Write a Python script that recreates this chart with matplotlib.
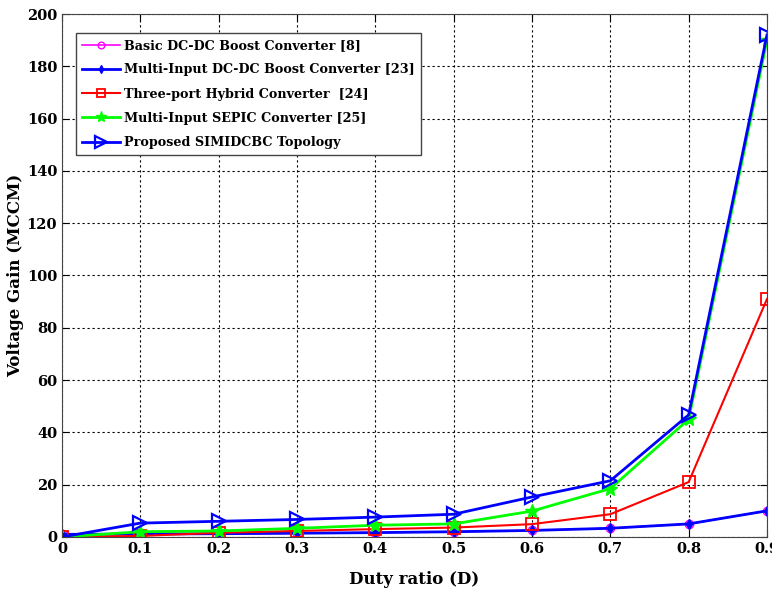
import matplotlib
matplotlib.use("Agg")
import matplotlib.pyplot as plt

duty = [0, 0.1, 0.2, 0.3, 0.4, 0.5, 0.6, 0.7, 0.8, 0.9]
basic_boost = [1.0, 1.11, 1.25, 1.43, 1.67, 2.0, 2.5, 3.33, 5.0, 10.0]
multi_input_boost = [1.0, 1.11, 1.25, 1.43, 1.67, 2.0, 2.5, 3.33, 5.0, 10.0]
three_port = [0.0, 0.4, 1.6, 2.3, 3.0, 3.6, 4.9, 8.7, 21.0, 91.0]
multi_sepic = [0.0, 2.0, 2.3, 3.3, 4.5, 5.0, 9.9, 18.5, 45.0, 190.0]
proposed = [0.0, 5.3, 6.0, 6.7, 7.6, 8.7, 15.3, 21.5, 46.7, 192.0]

labels = ["Basic DC-DC Boost Converter [8]",
          "Multi-Input DC-DC Boost Converter [23]",
          "Three-port Hybrid Converter  [24]",
          "Multi-Input SEPIC Converter [25]",
          "Proposed SIMIDCBC Topology"]

yticks = list(range(0, 201, 20))
xtick_labels = ["0", "0.1", "0.2", "0.3", "0.4", "0.5", "0.6", "0.7", "0.8", "0.9"]

plt.rcParams['font.family'] = ['DejaVu Serif']

fig = plt.figure(figsize=(7.72, 5.94), dpi=100)
ax = fig.add_axes([0.0803, 0.096, 0.9132, 0.8804])

ax.plot(duty, basic_boost, color='#ff00ff', marker='o', mfc='none', ms=6, lw=1.2, label=labels[0])
ax.plot(duty, multi_input_boost, color='#0000ff', marker='d', ms=5, lw=2.0, label=labels[1])
ax.plot(duty, three_port, color='#ff0000', marker='s', mfc='none', ms=8, mew=1.3, lw=1.5, label=labels[2])
ax.plot(duty, multi_sepic, color='#00ff00', marker='*', ms=10, lw=2.0, label=labels[3])
ax.plot(duty, proposed, color='#0000ff', marker='>', mfc='none', ms=10, mew=1.6, lw=2.0, label=labels[4])

ax.set_xlim(0, 0.9)
ax.set_ylim(0, 200)
ax.set_xticks(duty)
ax.set_xticklabels(xtick_labels)
ax.set_yticks(yticks)
ax.grid(True, color='black', linestyle=(0, (2, 2.5)), linewidth=0.8)
ax.tick_params(direction='in', top=True, right=True, labelsize=10.5, length=5)
for lab in ax.get_xticklabels() + ax.get_yticklabels():
    lab.set_fontweight('semibold')
for s in ax.spines.values():
    s.set_color('#444444')

ax.set_xlabel("Duty ratio (D)", fontsize=12, fontweight='bold', labelpad=11)
ax.set_ylabel("Voltage Gain (MCCM)", fontsize=12, fontweight='bold', labelpad=2)

leg = ax.legend(loc='upper left', bbox_to_anchor=(0.011, 0.975),
                prop={'weight': 'bold', 'size': 9.2}, fancybox=False, framealpha=1,
                edgecolor='#444444', handlelength=3.0, numpoints=1,
                borderpad=0.45, labelspacing=0.88, handletextpad=0.3, markerscale=0.8)

fig.savefig("out.png", dpi=100)
